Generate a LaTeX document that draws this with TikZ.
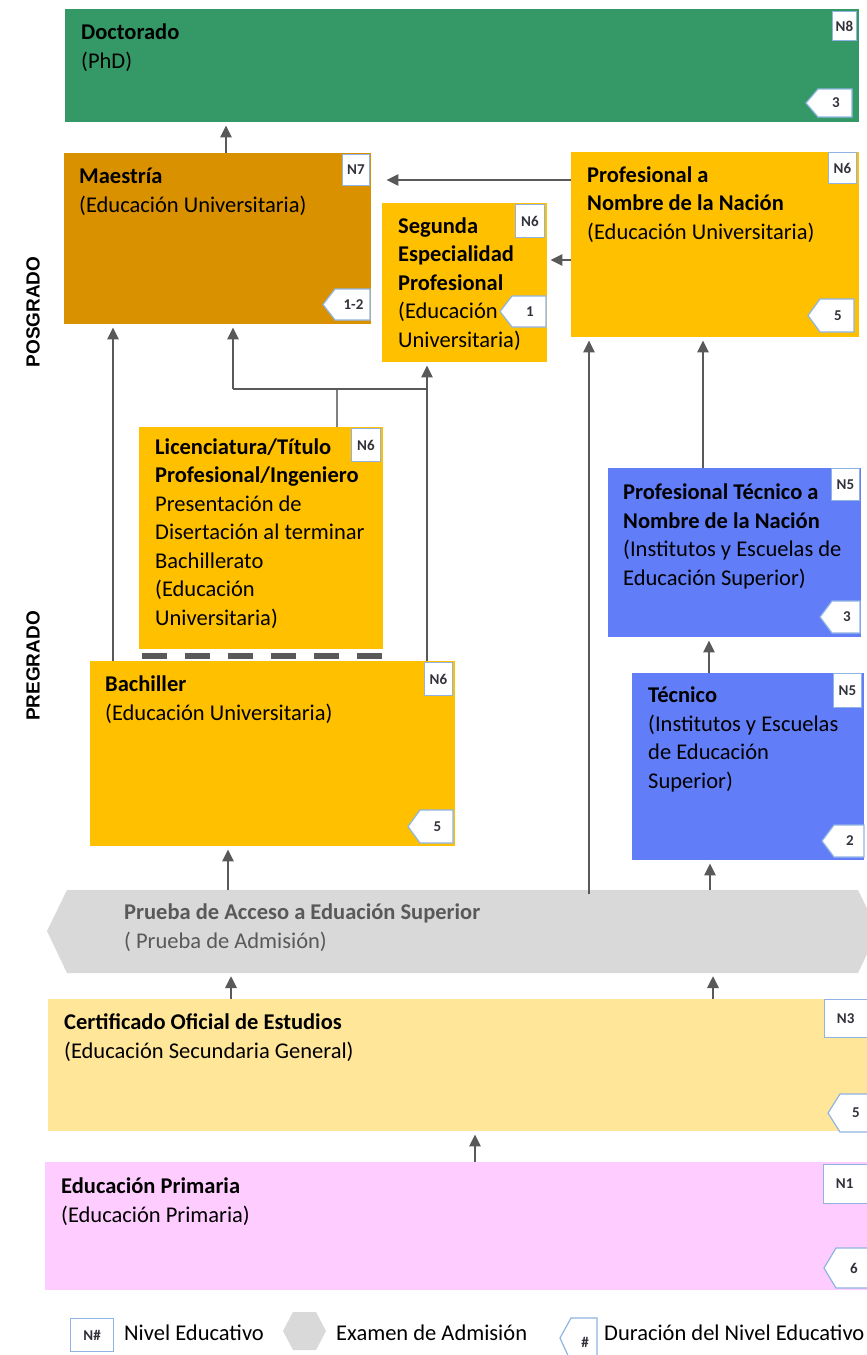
\documentclass[tikz,border=0pt]{standalone}
\usepackage{fontspec}
\setmainfont{Carlito}
\newfontfamily\arialf{Liberation Sans}
\usetikzlibrary{arrows.meta}
\definecolor{cgreen}{RGB}{52,153,102}
\definecolor{corange}{RGB}{218,145,0}
\definecolor{cyellow}{RGB}{255,192,0}
\definecolor{cblue}{RGB}{97,125,247}
\definecolor{chex}{RGB}{217,217,217}
\definecolor{ccert}{RGB}{255,230,153}
\definecolor{cprim}{RGB}{255,204,255}
\definecolor{cbadge}{RGB}{143,180,227}
\definecolor{cbtxt}{RGB}{50,50,60}
\definecolor{carrow}{RGB}{89,89,89}
\definecolor{chtxt}{RGB}{89,89,89}
\newcommand\bxfont{\fontsize{22.5}{28.5}\selectfont}
\newcommand\bgfont{\fontsize{15}{16}\selectfont\bfseries}
\newcommand\lblfont{\arialf\bfseries\fontsize{19}{19}\selectfont}
\tikzset{
 box/.style={inner sep=0pt, anchor=north west, draw=none},
 txt/.style={font=\bxfont, align=left, inner sep=0pt, anchor=base west},
 nbadge/.style={draw=cbadge, line width=1.2pt, fill=white, inner sep=0pt, anchor=north east, font=\bgfont, text=cbtxt},
 badgeline/.style={draw=cbadge, line width=1.2pt, fill=white},
 badgetxt/.style={font=\bgfont, text=cbtxt, inner sep=0pt},
 conn/.style={draw=carrow, line width=2.8pt},
 arr/.style={conn, -{Triangle[length=12pt,width=11pt]}, shorten >=3pt},
 lbl/.style={font=\lblfont, rotate=90, inner sep=0pt},
}
\newcommand\durbadge[6]{%
 \draw[badgeline] (#2,{(#4+#5)/2}) -- (#2+12,#4) -- (#3,#4) -- (#3,#5) -- (#2+12,#5) -- cycle;
 \node[badgetxt] (#1) at ({(#2+14+#3)/2},{(#4+#5)/2}) {#6};}
\begin{document}
\begin{tikzpicture}[x=1pt,y=-1pt]
\clip (0,0) rectangle (867,1355);
\fill[white] (0,0) rectangle (867,1355);
% boxes
\node[box, fill=cgreen, minimum width=794pt, minimum height=113pt] (doc) at (65,9) {};
\node[box, fill=corange, minimum width=307pt, minimum height=171pt] (mae) at (64,153) {};
\node[box, fill=cyellow, minimum width=165pt, minimum height=159pt] (seg) at (382,203) {};
\node[box, fill=cyellow, minimum width=288pt, minimum height=185pt] (pro) at (571,152) {};
\node[box, fill=cyellow, minimum width=244pt, minimum height=222pt] (lic) at (139,427) {};
\node[box, fill=cyellow, minimum width=365pt, minimum height=185pt] (bach) at (90,661) {};
\node[box, fill=cblue, minimum width=253pt, minimum height=169pt] (pt) at (608,468) {};
\node[box, fill=cblue, minimum width=232pt, minimum height=187pt] (tec) at (632,673) {};
\node[box, fill=ccert, minimum width=840pt, minimum height=132pt] (cert) at (48,999) {};
\node[box, fill=cprim, minimum width=840pt, minimum height=128pt] (prim) at (45,1162) {};
\fill[chex] (47,931) -- (67,890) -- (858,890) -- (878,931) -- (858,973) -- (67,973) -- cycle;
\coordinate (hexN) at (460,890);
\coordinate (hexS) at (460,973);
% dashed separator
\draw[draw=carrow, line width=6pt, dash pattern=on 25pt off 18pt] (142,656) -- (383,656);
% texts (anchor = baseline of the last line)
\node[txt] (tdoc) at (81,68) {\textbf{Doctorado}\\(PhD)};
\node[txt] (tmae) at (79,212) {\textbf{Maestría}\\(Educación Universitaria)};
\node[txt] (tseg) at (398,347) {\textbf{Segunda}\\\textbf{Especialidad}\\\textbf{Profesional}\\(Educación\\Universitaria)};
\node[txt] (tpro) at (587,239) {\textbf{Profesional a}\\\textbf{Nombre de la Nación}\\(Educación Universitaria)};
\node[txt] (tlic) at (155,625) {\textbf{Licenciatura/Título}\\\textbf{Profesional/Ingeniero}\\Presentación de\\Disertación al terminar\\Bachillerato\\(Educación\\Universitaria)};
\node[txt] (tbach) at (105,720) {\textbf{Bachiller}\\(Educación Universitaria)};
\node[txt] (tpt) at (623,585) {\textbf{Profesional Técnico a}\\\textbf{Nombre de la Nación}\\(Institutos y Escuelas de\\Educación Superior)};
\node[txt] (ttec) at (648,788) {\textbf{Técnico}\\(Institutos y Escuelas\\de Educación\\Superior)};
\node[txt, text=chtxt] (thex) at (124,948) {\textbf{Prueba de Acceso a Eduación Superior}\\( Prueba de Admisión)};
\node[txt] (tcert) at (64,1058) {\textbf{Certificado Oficial de Estudios}\\(Educación Secundaria General)};
\node[txt] (tprim) at (61,1222) {\textbf{Educación Primaria}\\(Educación Primaria)};
% side labels
\node[lbl] (lpos) at (33,312) {POSGRADO};
\node[lbl] (lpre) at (33,666) {PREGRADO};
% level badges
\node[nbadge, minimum width=24pt, minimum height=29pt] (n8) at (857,11) {N8};
\node[nbadge, minimum width=27pt, minimum height=31pt] (n7) at (370,154) {N7};
\node[nbadge, minimum width=29pt, minimum height=33pt] (n6a) at (545,204) {N6};
\node[nbadge, minimum width=28pt, minimum height=31pt] (n6b) at (857,152) {N6};
\node[nbadge, minimum width=29pt, minimum height=33pt] (n6c) at (381,428) {N6};
\node[nbadge, minimum width=28pt, minimum height=33pt] (n6d) at (453,662) {N6};
\node[nbadge, minimum width=28pt, minimum height=32pt] (n5a) at (860,468) {N5};
\node[nbadge, minimum width=28pt, minimum height=34pt] (n5b) at (862,673) {N5};
\node[nbadge, anchor=north west, minimum width=50pt, minimum height=38pt] (n3) at (824,999) {\hspace*{-8pt}N3};
\node[nbadge, anchor=north west, minimum width=50pt, minimum height=39pt] (n1) at (823,1164) {\hspace*{-8pt}N1};
% duration badges
\durbadge{d8}{806}{852}{89}{117}{3}
\durbadge{d7}{323}{370}{289}{320}{1-2}
\durbadge{d6a}{500}{546}{296}{327}{1}
\durbadge{d6b}{808}{854}{299}{332}{5}
\durbadge{d5a}{820}{860}{601}{633}{3}
\durbadge{d5b}{822}{864}{825}{857}{2}
\durbadge{d6d}{408}{453}{810}{843}{5}
\durbadge{d3}{828}{880}{1094}{1132}{\hspace*{-10pt}5}
\durbadge{d1}{824}{880}{1248}{1288}{\hspace*{-10pt}6}
% connectors
\coordinate (j) at (337,389);
\draw[arr] (226,0 |- mae.north) -- (226,0 |- doc.south);
\draw[arr, shorten >=15pt] (pro.west |- 0,180) -- (mae.east |- 0,180);
\draw[arr] (pro.west |- 0,260) -- (seg.east |- 0,260);
\draw[arr] (113,0 |- bach.north) -- (113,0 |- mae.south);
\draw[conn, draw=gray, line width=2pt] (j |- lic.north) -- (j);
\draw[conn] (233,0 |- j) -- (428,0 |- j);
\draw[arr] (233,0 |- j) -- (233,0 |- mae.south);
\draw[arr] (427,0 |- bach.north) -- (427,0 |- seg.south);
\draw[arr] (589,894) -- (589,0 |- pro.south);
\draw[arr] (703,0 |- pt.north) -- (703,0 |- pro.south);
\draw[arr] (709,0 |- tec.north) -- (709,0 |- pt.south);
\draw[arr] (710,0 |- hexN) -- (710,0 |- tec.south);
\draw[arr] (228,0 |- hexN) -- (228,0 |- bach.south);
\draw[arr] (231,0 |- cert.north) -- (231,0 |- hexS);
\draw[arr] (713,0 |- cert.north) -- (713,0 |- hexS);
\draw[arr] (475,0 |- prim.north) -- (475,0 |- cert.south);
% legend
\node[nbadge, anchor=north west, minimum width=43pt, minimum height=33pt] (lgn) at (70,1318) {N\#};
\node[txt] (lg1) at (124,1340) {Nivel Educativo};
\fill[chex] (283,1331) -- (293,1312) -- (316,1312) -- (326,1331) -- (316,1350) -- (293,1350) -- cycle;
\node[txt] (lg2) at (336,1340) {Examen de Admisión};
\draw[badgeline] (560,1338) -- (571,1318) -- (597,1318) -- (597,1362) -- (571,1362) -- cycle;
\node[badgetxt] (lg3b) at (585,1342) {\#};
\node[txt] (lg3) at (604,1340) {Duración del Nivel Educativo};
\end{tikzpicture}
\end{document}
